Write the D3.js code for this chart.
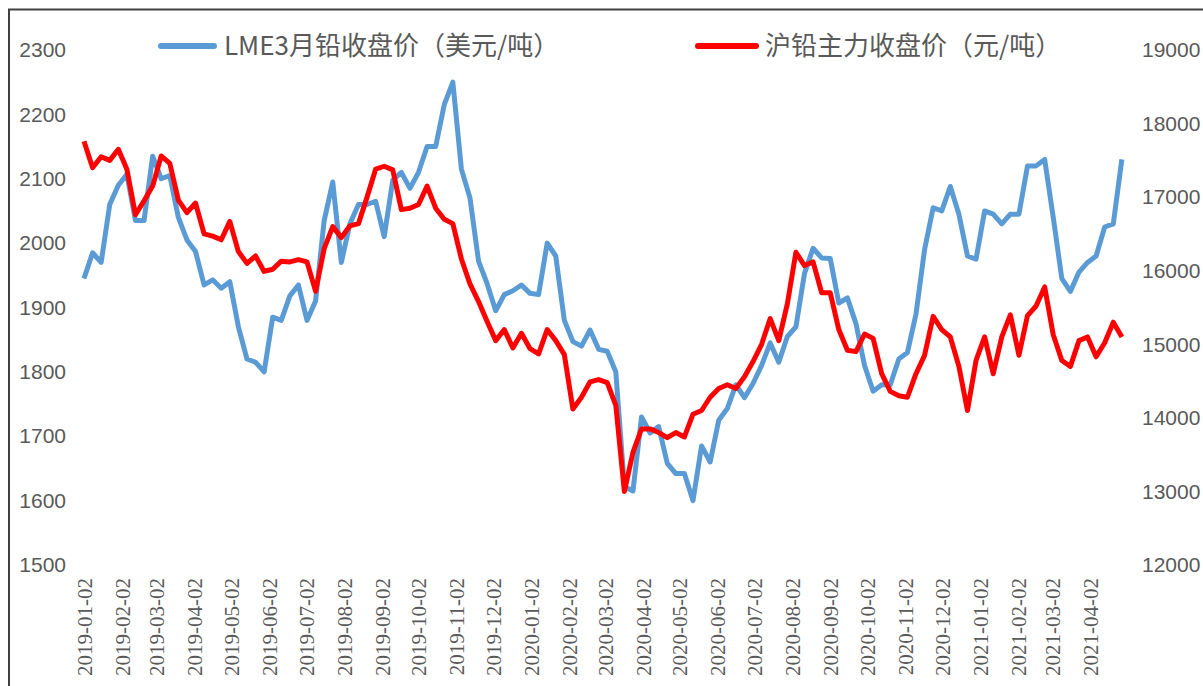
<!DOCTYPE html>
<html>
<head>
<meta charset="utf-8">
<script src="https://cdn.jsdelivr.net/npm/d3@7"></script>
<style>
  html, body { margin: 0; padding: 0; background: #fff; }
  svg { display: block; }
</style>
</head>
<body>
<svg id="chart" width="1203" height="686"></svg>
<script>
// Weekly samples.
var dates = [
    '2019-01-02','2019-01-09','2019-01-16','2019-01-23','2019-01-30',
    '2019-02-06','2019-02-13','2019-02-20','2019-02-27',
    '2019-03-06','2019-03-13','2019-03-20','2019-03-27',
    '2019-04-03','2019-04-10','2019-04-17','2019-04-24',
    '2019-05-01','2019-05-08','2019-05-15','2019-05-22','2019-05-29',
    '2019-06-05','2019-06-12','2019-06-19','2019-06-26',
    '2019-07-03','2019-07-10','2019-07-17','2019-07-24','2019-07-31',
    '2019-08-07','2019-08-14','2019-08-21','2019-08-28',
    '2019-09-04','2019-09-11','2019-09-18','2019-09-25',
    '2019-10-02','2019-10-09','2019-10-16','2019-10-23','2019-10-30',
    '2019-11-06','2019-11-13','2019-11-20','2019-11-27',
    '2019-12-04','2019-12-11','2019-12-18','2019-12-25',
    '2020-01-01','2020-01-08','2020-01-15','2020-01-22','2020-01-29',
    '2020-02-05','2020-02-12','2020-02-19','2020-02-26',
    '2020-03-04','2020-03-11','2020-03-18','2020-03-25',
    '2020-04-01','2020-04-08','2020-04-15','2020-04-22','2020-04-29',
    '2020-05-06','2020-05-13','2020-05-20','2020-05-27',
    '2020-06-03','2020-06-10','2020-06-17','2020-06-24',
    '2020-07-01','2020-07-08','2020-07-15','2020-07-22','2020-07-29',
    '2020-08-05','2020-08-12','2020-08-19','2020-08-26',
    '2020-09-02','2020-09-09','2020-09-16','2020-09-23','2020-09-30',
    '2020-10-07','2020-10-14','2020-10-21','2020-10-28',
    '2020-11-04','2020-11-11','2020-11-18','2020-11-25',
    '2020-12-02','2020-12-09','2020-12-16','2020-12-23','2020-12-30',
    '2021-01-06','2021-01-13','2021-01-20','2021-01-27',
    '2021-02-03','2021-02-10','2021-02-17','2021-02-24',
    '2021-03-03','2021-03-10','2021-03-17','2021-03-24','2021-03-31',
    '2021-04-07','2021-04-14','2021-04-21','2021-04-28'
];

// LME 3-month lead close, USD/t (left axis)
var lmeValues = [
    1945, 1985, 1970, 2060, 2090,
    2107, 2035, 2035, 2135,
    2100, 2105, 2040, 2005,
    1987, 1935, 1943, 1930,
    1940, 1870, 1820, 1815, 1800,
    1885, 1880, 1918, 1935,
    1880, 1910, 2035, 2095, 1970,
    2030, 2060, 2060, 2065,
    2010, 2098, 2110, 2085,
    2110, 2150, 2150, 2215, 2250,
    2115, 2070, 1972, 1937,
    1895, 1920, 1926, 1935,
    1922, 1920, 2000, 1980, 1880,
    1847, 1840, 1865, 1835,
    1832, 1800, 1622, 1615,
    1730, 1705, 1715, 1658, 1642,
    1642, 1600, 1685, 1660,
    1725, 1743, 1780, 1760,
    1782, 1810, 1845, 1815, 1855,
    1870, 1953, 1992, 1977,
    1976, 1907, 1915, 1875, 1810,
    1770, 1780, 1780, 1820,
    1830, 1890, 1990, 2055,
    2050, 2088, 2045, 1980, 1975,
    2050, 2045, 2030, 2045,
    2045, 2120, 2120, 2130,
    2040, 1945, 1925, 1955, 1970,
    1980, 2025, 2030, 2130
];

// SHFE lead main contract close, CNY/t (right axis)
var shfeValues = [
    17760, 17400, 17550, 17500, 17650,
    17380, 16760, 16950, 17150,
    17560, 17460, 16960, 16790,
    16920, 16500, 16470, 16420,
    16670, 16260, 16100, 16200, 15990,
    16020, 16130, 16120, 16150,
    16120, 15720, 16300, 16600, 16450,
    16610, 16640, 17000, 17380,
    17420, 17370, 16830, 16850,
    16900, 17150, 16850, 16700, 16640,
    16160, 15820, 15580, 15310,
    15050, 15200, 14950, 15150,
    14940, 14870, 15200, 15050, 14860,
    14120, 14280, 14490, 14520,
    14480, 14170, 13000, 13530,
    13850, 13850, 13800, 13730, 13800,
    13740, 14050, 14100, 14280,
    14400, 14450, 14400, 14560,
    14765, 15000, 15350, 15050, 15550,
    16250, 16070, 16120, 15700,
    15700, 15200, 14920, 14900, 15140,
    15080, 14600, 14360, 14300,
    14280, 14600, 14850, 15380,
    15200, 15100, 14700, 14100, 14780,
    15100, 14600, 15100, 15400,
    14850, 15390, 15520, 15780,
    15130, 14780, 14700, 15050, 15100,
    14830, 15020, 15300, 15100
];

var tickDates = [
    '2019-01-02','2019-02-02','2019-03-02','2019-04-02','2019-05-02','2019-06-02',
    '2019-07-02','2019-08-02','2019-09-02','2019-10-02','2019-11-02','2019-12-02',
    '2020-01-02','2020-02-02','2020-03-02','2020-04-02','2020-05-02','2020-06-02',
    '2020-07-02','2020-08-02','2020-09-02','2020-10-02','2020-11-02','2020-12-02',
    '2021-01-02','2021-02-02','2021-03-02','2021-04-02'
];
var leftTicks = [1500, 1600, 1700, 1800, 1900, 2000, 2100, 2200, 2300];
var rightTicks = [12000, 13000, 14000, 15000, 16000, 17000, 18000, 19000];

var seriesNames = ['LME3月铅收盘价（美元/吨）', '沪铅主力收盘价（元/吨）'];
var seriesColors = ['#5b9bd5', '#ff0000'];

var parseDate = d3.timeParse('%Y-%m-%d');
var svg = d3.select('#chart');

var textColor = '#595959';
var numberFont = '"Liberation Sans", Arial, sans-serif';
var dateFont = '"Liberation Serif", "Times New Roman", "DejaVu Serif", serif';
var cjkFont = '"Noto Sans CJK SC", "Noto Sans", sans-serif';

// outer frame (only left and top edges fall inside the picture)
svg.append('rect')
    .attr('x', 9)
    .attr('y', 9.5)
    .attr('width', 1220)
    .attr('height', 700)
    .attr('fill', 'none')
    .attr('stroke', '#404040')
    .attr('stroke-width', 2);

var x = d3.scaleTime()
    .domain([parseDate('2019-01-02'), parseDate('2021-04-02')])
    .range([84, 1090]);
var yLeft = d3.scaleLinear().domain([1500, 2300]).range([565, 50]);
var yRight = d3.scaleLinear().domain([12000, 19000]).range([565, 50]);

// left axis labels
var leftAxis = d3.axisLeft(yLeft)
    .tickValues(leftTicks)
    .tickFormat(d3.format('d'))
    .tickSize(0)
    .tickPadding(0);
svg.append('g')
    .attr('transform', 'translate(66,0)')
    .call(leftAxis)
    .attr('font-family', numberFont)
    .attr('font-size', 21)
    .call(g => g.select('.domain').remove())
    .selectAll('text')
    .attr('fill', textColor);

// right axis labels
var rightAxis = d3.axisRight(yRight)
    .tickValues(rightTicks)
    .tickFormat(d3.format('d'))
    .tickSize(0)
    .tickPadding(0);
svg.append('g')
    .attr('transform', 'translate(1142,0)')
    .call(rightAxis)
    .attr('font-family', numberFont)
    .attr('font-size', 21)
    .call(g => g.select('.domain').remove())
    .selectAll('text')
    .attr('fill', textColor);

// date labels, rotated to read bottom-up
var bottomAxis = d3.axisBottom(x)
    .tickValues(tickDates.map(parseDate))
    .tickFormat(d3.timeFormat('%Y-%m-%d'))
    .tickSize(0)
    .tickPadding(0);
svg.append('g')
    .attr('transform', 'translate(0,578)')
    .call(bottomAxis)
    .attr('font-family', dateFont)
    .attr('font-size', 21)
    .call(g => g.select('.domain').remove())
    .selectAll('text')
    .attr('fill', textColor)
    .attr('text-anchor', 'end')
    .attr('transform', 'rotate(-90)')
    .attr('x', 0)
    .attr('y', 0)
    .attr('dy', '0.35em');

var lmeData = dates.map((d, i) => ({date: parseDate(d), value: lmeValues[i]}));
var shfeData = dates.map((d, i) => ({date: parseDate(d), value: shfeValues[i]}));

var lmeLine = d3.line().x(d => x(d.date)).y(d => yLeft(d.value));
var shfeLine = d3.line().x(d => x(d.date)).y(d => yRight(d.value));

svg.append('path')
    .datum(lmeData)
    .attr('d', lmeLine)
    .attr('fill', 'none')
    .attr('stroke', seriesColors[0])
    .attr('stroke-width', 5)
    .attr('stroke-linejoin', 'round');

svg.append('path')
    .datum(shfeData)
    .attr('d', shfeLine)
    .attr('fill', 'none')
    .attr('stroke', seriesColors[1])
    .attr('stroke-width', 5)
    .attr('stroke-linejoin', 'round');

// legend
var legendItems = [
    {x1: 161, x2: 214, tx: 224},
    {x1: 698, x2: 756, tx: 765}
];
legendItems.forEach(function(item, i) {
    svg.append('line')
        .attr('x1', item.x1).attr('x2', item.x2)
        .attr('y1', 46).attr('y2', 46)
        .attr('stroke', seriesColors[i])
        .attr('stroke-width', 6)
        .attr('stroke-linecap', 'round');
    svg.append('text')
        .attr('x', item.tx)
        .attr('y', 46)
        .attr('dy', '0.35em')
        .attr('fill', textColor)
        .style('font-family', cjkFont)
        .style('font-size', '26px')
        .text(seriesNames[i]);
});
</script>
</body>
</html>
